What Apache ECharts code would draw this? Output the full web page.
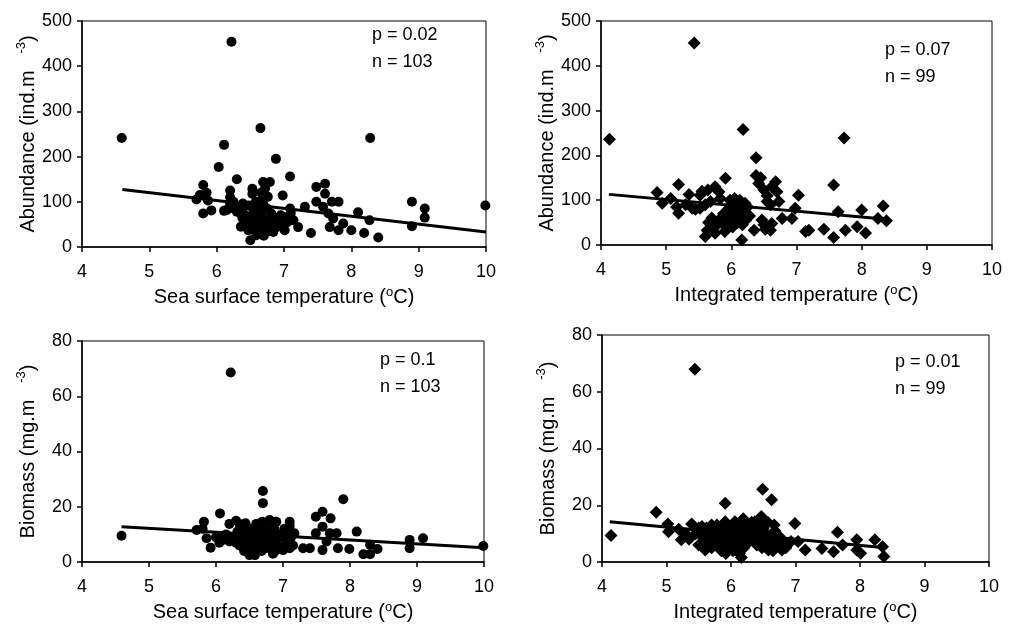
<!DOCTYPE html>
<html>
<head>
<meta charset="utf-8">
<script src="https://cdn.jsdelivr.net/npm/echarts@6/dist/echarts.min.js"></script>
<style>
  html, body { margin: 0; padding: 0; background: #fff; }
  #chart { width: 1013px; height: 629px; }
</style>
</head>
<body>
<div id="chart"></div>
<script>
// sea surface temperature vs abundance (n = 103)
const sstAbundance = [
  [4.59, 241], [6.22, 454], [6.65, 263], [8.28, 241], [6.11, 226], [6.03, 177], [6.88, 195],
  [7.09, 156], [6.30, 150], [5.80, 137], [5.70, 105], [5.80, 74], [5.92, 81], [5.87, 103],
  [6.11, 80], [6.20, 125], [6.20, 110], [6.20, 96], [6.25, 85], [6.39, 96], [6.53, 129],
  [6.53, 118], [6.44, 66], [6.47, 37], [6.50, 15], [6.59, 26], [6.62, 37], [6.69, 144],
  [6.79, 144], [6.69, 111], [6.76, 111], [6.69, 96], [6.67, 74], [6.81, 74], [6.74, 52],
  [6.59, 59], [6.54, 74], [6.89, 44], [6.84, 33], [7.01, 37], [6.98, 114], [7.01, 66],
  [7.09, 85], [7.14, 59], [7.21, 44], [7.31, 89], [7.40, 31], [7.48, 133], [7.61, 140],
  [7.61, 118], [7.48, 100], [7.58, 89], [7.71, 100], [7.81, 100], [7.66, 74], [7.68, 44],
  [7.73, 63], [7.88, 52], [7.81, 37], [8.00, 37], [8.10, 77], [8.19, 31], [8.27, 59],
  [8.40, 21], [8.90, 100], [8.90, 46], [9.09, 85], [9.09, 65], [9.99, 92],
  [6.35, 90], [6.40, 88], [6.42, 70], [6.45, 55], [6.50, 60], [6.52, 48], [6.55, 82],
  [6.57, 70], [6.60, 45], [6.62, 65], [6.63, 55], [6.65, 85], [6.68, 50], [6.70, 62],
  [6.72, 40], [6.75, 85], [6.78, 35], [6.80, 50], [6.82, 58], [6.85, 40], [6.90, 60],
  [6.93, 48], [6.95, 70], [7.05, 55], [7.10, 75], [6.48, 92], [6.38, 65], [6.58, 100],
  [6.66, 120], [6.72, 130], [5.75, 115], [5.85, 120], [6.15, 82], [6.25, 100], [6.30, 78],
  [6.36, 45], [6.70, 25], [6.60, 30]
];
const sstAbundanceTrend = [[4.6, 127], [10, 33]];

// integrated temperature vs abundance (n = 99)
const intAbundance = [
  [4.13, 236], [5.43, 451], [6.18, 258], [7.73, 239], [6.38, 195], [5.91, 149], [6.38, 155],
  [6.42, 137], [6.50, 123], [6.68, 141], [6.70, 119], [6.73, 97], [6.55, 97], [4.86, 117],
  [5.19, 135], [5.35, 113], [4.94, 93], [5.07, 104], [5.16, 85], [5.19, 71], [5.40, 82],
  [5.52, 82], [5.52, 111], [5.64, 123], [5.75, 130], [5.81, 119], [5.68, 97], [5.83, 104],
  [6.05, 104], [6.21, 93], [5.60, 19], [5.63, 33], [5.70, 41], [5.75, 26], [5.81, 56],
  [5.91, 63], [5.91, 41], [6.01, 71], [6.06, 85], [6.11, 56], [6.16, 11], [6.23, 71],
  [6.14, 71], [6.35, 33], [6.47, 56], [6.60, 33], [6.62, 48], [6.78, 59], [6.93, 59],
  [6.98, 82], [7.03, 111], [7.14, 30], [7.19, 33], [7.42, 35], [7.57, 134], [7.57, 17],
  [7.64, 74], [7.75, 33], [7.93, 41], [8.00, 78], [8.06, 27], [8.25, 59], [8.33, 87],
  [8.38, 54],
  [5.65, 50], [5.70, 60], [5.72, 35], [5.78, 45], [5.85, 55], [5.88, 70], [5.90, 30],
  [5.95, 80], [5.97, 48], [6.00, 90], [6.00, 60], [6.02, 40], [6.04, 75], [6.07, 95],
  [6.08, 65], [6.10, 50], [6.12, 80], [6.13, 100], [6.15, 62], [6.17, 45], [6.20, 75],
  [6.22, 55], [6.25, 85], [6.28, 65], [5.98, 100], [6.55, 110], [6.60, 90], [6.62, 130],
  [6.50, 45], [6.52, 35], [5.55, 120], [5.60, 90], [5.45, 80], [5.30, 90], [6.45, 150]
];
const intAbundanceTrend = [[4.12, 113], [8.34, 58]];

// sea surface temperature vs biomass (n = 103)
const sstBiomass = [
  [4.59, 9.5], [6.22, 68.6], [6.70, 25.7], [6.70, 21.3], [7.90, 22.7], [6.06, 17.6], [5.82, 14.6],
  [5.71, 11.6], [5.86, 8.6], [5.92, 5.2], [6.20, 13.8], [6.30, 14.9], [6.41, 13.8], [6.60, 13.8],
  [6.80, 15.2], [6.90, 14.6], [6.69, 14.6], [6.50, 2.5], [7.10, 14.6], [7.10, 5.0], [7.17, 10.4],
  [7.00, 4.3], [7.30, 5.0], [7.40, 5.0], [7.49, 16.4], [7.59, 18.2], [7.71, 15.8], [7.49, 10.4],
  [7.59, 12.8], [7.59, 4.3], [7.70, 10.4], [7.80, 10.4], [7.65, 7.4], [7.82, 5.0], [7.99, 4.7],
  [8.10, 11.0], [8.20, 2.8], [8.30, 2.8], [8.30, 6.2], [8.41, 4.7], [8.89, 8.0], [8.89, 5.0],
  [9.09, 8.6], [9.99, 5.8], [6.09, 9.2], [6.20, 7.4],
  [6.10, 8], [6.15, 10], [6.25, 9], [6.30, 7], [6.32, 11], [6.35, 6], [6.38, 9], [6.40, 12],
  [6.42, 4], [6.45, 8], [6.47, 10], [6.48, 6], [6.50, 12], [6.52, 5], [6.53, 8], [6.55, 3.5],
  [6.56, 10], [6.58, 7], [6.60, 5], [6.61, 11], [6.63, 8], [6.65, 6], [6.66, 12], [6.68, 4],
  [6.70, 9], [6.71, 7], [6.72, 13], [6.74, 5], [6.75, 10], [6.77, 8], [6.78, 6], [6.80, 11],
  [6.82, 5], [6.83, 9], [6.85, 7], [6.87, 12], [6.88, 4], [6.90, 8], [6.92, 6], [6.95, 10],
  [6.97, 5], [7.00, 9], [7.02, 12], [7.05, 7], [7.08, 11], [7.10, 13], [7.12, 9], [7.15, 6],
  [6.44, 14], [6.62, 13], [6.78, 14.5], [6.85, 3], [6.58, 2.5], [6.36, 13], [5.80, 12],
  [6.00, 9], [6.05, 7]
];
const sstBiomassTrend = [[4.59, 12.8], [10, 5.2]];

// integrated temperature vs biomass (n = 99)
const intBiomass = [
  [4.14, 9.3], [5.44, 67.9], [4.84, 17.5], [5.91, 20.7], [6.49, 25.6], [6.63, 21.9], [6.99, 13.6],
  [7.65, 10.5], [5.02, 13.4], [5.03, 10.7], [5.19, 11.5], [5.23, 7.8], [5.39, 13.4], [5.50, 6.0],
  [5.60, 4.2], [5.55, 12.5], [5.70, 13.0], [5.91, 14.2], [6.06, 14.2], [6.19, 15.2], [6.16, 1.6],
  [6.37, 14.2], [6.47, 16.0], [6.67, 13.0], [6.58, 4.2], [6.79, 4.2], [6.93, 7.2], [7.04, 7.2],
  [7.15, 4.2], [7.41, 4.8], [7.59, 3.6], [7.73, 6.0], [7.95, 7.8], [8.01, 3.1], [8.23, 7.8],
  [8.35, 5.4], [8.37, 1.9], [7.95, 4.2],
  [5.60, 9], [5.62, 12], [5.65, 7], [5.68, 10], [5.70, 5], [5.72, 11], [5.75, 8], [5.78, 13],
  [5.80, 6], [5.82, 10], [5.85, 4], [5.87, 9], [5.88, 12], [5.90, 7], [5.92, 3], [5.93, 10],
  [5.95, 5], [5.97, 8], [5.98, 12], [6.00, 6], [6.02, 9], [6.03, 4], [6.05, 11], [6.07, 7],
  [6.08, 13], [6.10, 5], [6.12, 9], [6.13, 3], [6.15, 11], [6.17, 7], [6.18, 13], [6.20, 5],
  [6.22, 9], [6.25, 12], [6.27, 7], [6.30, 10], [6.32, 14], [6.35, 8], [6.38, 11], [6.40, 6],
  [6.42, 13], [6.45, 9], [6.48, 5], [6.50, 12], [6.52, 7], [6.55, 10], [6.57, 14], [6.60, 6],
  [6.62, 9], [6.65, 4], [6.68, 11], [6.70, 8], [6.72, 6], [6.75, 9], [6.80, 7], [6.85, 5],
  [5.30, 10], [5.35, 8], [5.45, 10], [5.50, 12], [5.55, 9]
];
const intBiomassTrend = [[4.12, 14.2], [8.35, 5.1]];

const panelStats = [
  ['p = 0.02', 'n = 103'],
  ['p = 0.07', 'n = 99'],
  ['p = 0.1', 'n = 103'],
  ['p = 0.01', 'n = 99']
];

const FONT = "'Liberation Sans', Arial, sans-serif";

const chart = echarts.init(document.getElementById('chart'), null, { renderer: 'canvas' });

const grids = [
  { left: 82, top: 21, width: 404, height: 226 },
  { left: 601, top: 21, width: 391, height: 224 },
  { left: 82, top: 341, width: 402, height: 221 },
  { left: 602, top: 335, width: 387, height: 227 }
];

const xNames = [
  'Sea surface temperature ({s|o}C)',
  'Integrated temperature ({s|o}C)',
  'Sea surface temperature ({s|o}C)',
  'Integrated temperature ({s|o}C)'
];
const yNames = [
  'Abundance (ind.m   {s|-3}{t|)}',
  'Abundance (ind.m   {s|-3}{t|)}',
  'Biomass (mg.m   {s|-3}{t|)}',
  'Biomass (mg.m   {s|-3}{t|)}'
];
const yMax = [500, 500, 80, 80];
const yStep = [100, 100, 20, 20];

const supRich = {
  s: { fontSize: 13, fontFamily: FONT, color: '#000', padding: [0, 0, 14, 0] },
  t: { fontSize: 20, fontFamily: FONT, color: '#000' }
};

const axisLine = { show: true, lineStyle: { color: '#000', width: 1.5 } };
const axisTick = { show: true, inside: false, length: 5, lineStyle: { color: '#000', width: 1.5 } };
const dot = { color: '#000', opacity: 1 };

const option = {
  animation: false,
  backgroundColor: '#fff',
  grid: grids.map(g => Object.assign({ show: true, borderColor: '#000', borderWidth: 1, containLabel: false }, g)),
  xAxis: grids.map((g, i) => ({
    type: 'value',
    gridIndex: i,
    min: 4,
    max: 10,
    interval: 1,
    name: xNames[i],
    nameLocation: 'middle',
    nameGap: 39,
    nameTextStyle: { fontSize: 20, fontFamily: FONT, color: '#000', rich: { s: { fontSize: 13, fontFamily: FONT, color: '#000', padding: [0, 0, 10, 0] } } },
    axisLine,
    axisTick,
    splitLine: { show: false },
    axisLabel: { fontSize: 18, fontFamily: FONT, color: '#000', margin: 16 }
  })),
  yAxis: grids.map((g, i) => ({
    type: 'value',
    gridIndex: i,
    min: 0,
    max: yMax[i],
    interval: yStep[i],
    name: yNames[i],
    nameLocation: 'middle',
    nameGap: 40,
    nameRotate: 90,
    nameTextStyle: { fontSize: 20, fontFamily: FONT, color: '#000', rich: supRich },
    axisLine,
    axisTick,
    splitLine: { show: false },
    axisLabel: { fontSize: 18, fontFamily: FONT, color: '#000', margin: 10 }
  })),
  series: [
    { type: 'scatter', xAxisIndex: 0, yAxisIndex: 0, data: sstAbundance, symbol: 'circle', symbolSize: 10, itemStyle: dot },
    { type: 'line', xAxisIndex: 0, yAxisIndex: 0, data: sstAbundanceTrend, symbol: 'none', lineStyle: { color: '#000', width: 3 } },
    { type: 'scatter', xAxisIndex: 1, yAxisIndex: 1, data: intAbundance, symbol: 'diamond', symbolSize: 13, itemStyle: dot },
    { type: 'line', xAxisIndex: 1, yAxisIndex: 1, data: intAbundanceTrend, symbol: 'none', lineStyle: { color: '#000', width: 3 } },
    { type: 'scatter', xAxisIndex: 2, yAxisIndex: 2, data: sstBiomass, symbol: 'circle', symbolSize: 10, itemStyle: dot },
    { type: 'line', xAxisIndex: 2, yAxisIndex: 2, data: sstBiomassTrend, symbol: 'none', lineStyle: { color: '#000', width: 3 } },
    { type: 'scatter', xAxisIndex: 3, yAxisIndex: 3, data: intBiomass, symbol: 'diamond', symbolSize: 13, itemStyle: dot },
    { type: 'line', xAxisIndex: 3, yAxisIndex: 3, data: intBiomassTrend, symbol: 'none', lineStyle: { color: '#000', width: 3 } }
  ]
};

// p / n labels in the upper right of each panel
const statPos = [[372, 22], [885, 37], [380, 347], [895, 349]];
option.graphic = panelStats.map((s, i) => ({
  type: 'text',
  left: statPos[i][0],
  top: statPos[i][1],
  style: {
    text: s[0] + '\n' + s[1],
    font: '18px ' + FONT,
    fill: '#000',
    lineHeight: 27
  }
}));

chart.setOption(option);
</script>
</body>
</html>
